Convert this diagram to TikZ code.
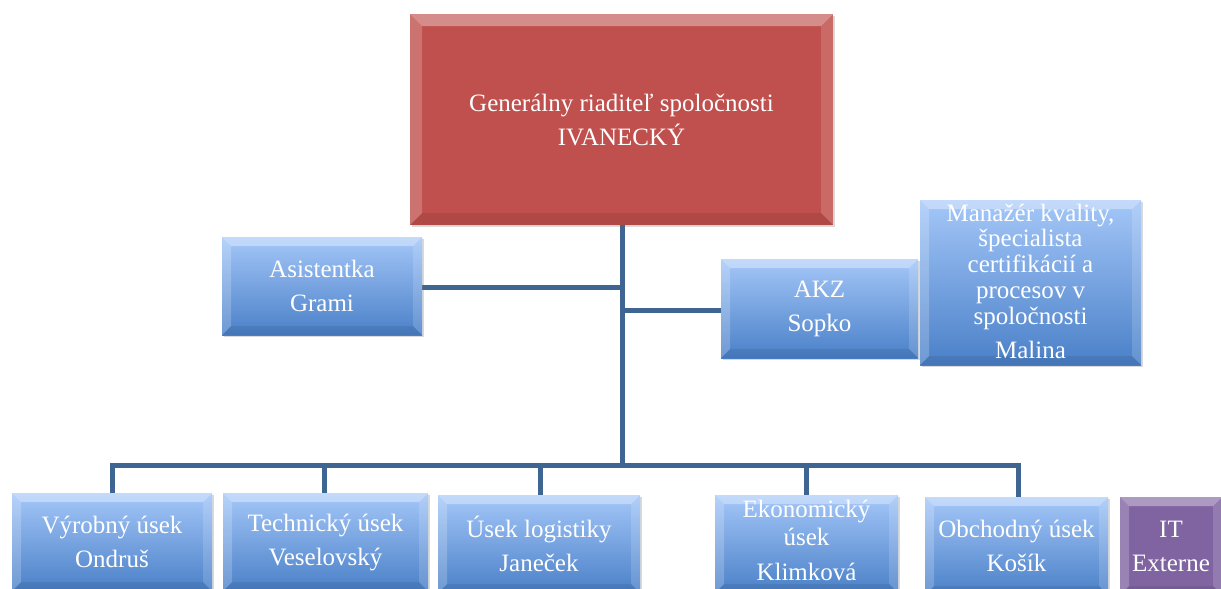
\documentclass[tikz,border=0pt]{standalone}
\usepackage{fontspec}
\setmainfont{Liberation Serif}
\usetikzlibrary{shadows}
\definecolor{conn}{HTML}{3F6592}
\definecolor{btop}{HTML}{A4C7F8}
\definecolor{bbot}{HTML}{4A80C8}
\definecolor{redbox}{HTML}{C0504D}
\definecolor{purp}{HTML}{8064A2}
\tikzset{
  bevel/.style={path picture={
    \fill[white,opacity=.35] (path picture bounding box.north west) -- (path picture bounding box.north east)
      -- ([xshift=-#1,yshift=-#1]path picture bounding box.north east) -- ([xshift=#1,yshift=-#1]path picture bounding box.north west) -- cycle;
    \fill[white,opacity=.2] (path picture bounding box.north west) -- ([xshift=#1,yshift=-#1]path picture bounding box.north west)
      -- ([xshift=#1,yshift=#1]path picture bounding box.south west) -- (path picture bounding box.south west) -- cycle;
    \fill[white,opacity=.15] (path picture bounding box.north east) -- ([xshift=-#1,yshift=-#1]path picture bounding box.north east)
      -- ([xshift=-#1,yshift=#1]path picture bounding box.south east) -- (path picture bounding box.south east) -- cycle;
    \fill[black,opacity=.08] (path picture bounding box.south west) -- ([xshift=#1,yshift=#1]path picture bounding box.south west)
      -- ([xshift=-#1,yshift=#1]path picture bounding box.south east) -- (path picture bounding box.south east) -- cycle;
  }},
  box/.style={inner sep=0pt, text=white, align=center, font=\fontsize{25}{34}\selectfont,
    drop shadow={shadow xshift=2pt,shadow yshift=-2pt,opacity=.25,fill=black!60}},
  bluebox/.style={box, top color=btop, bottom color=bbot, bevel=9pt},
  redstyle/.style={box, fill=redbox, bevel=12pt},
  purplebox/.style={box, fill=purp, bevel=9pt},
  boxtext/.style={inner sep=0pt, text=white, align=center},
  link/.style={draw=conn, line width=5pt},
}
\begin{document}
\begin{tikzpicture}[x=1pt,y=-1pt]
\useasboundingbox (0,0) rectangle (1221,589);
\clip (0,0) rectangle (1221,589);
% coordinates for connectors
\coordinate (bus) at (622,465);
\coordinate (top) at (622,224);
% connectors (behind boxes)
\draw[link] (top) -- (bus);
\draw[link] (bus) -| (112,500) coordinate (vyrtop);
\draw[link] (bus) -| (324,500) coordinate (techtop);
\draw[link] (bus) -| (540,500) coordinate (logtop);
\draw[link] (bus) -| (806,500) coordinate (ekotop);
\draw[link] (bus) -| (1018,500) coordinate (obchtop);
\coordinate (asj) at (622,287);
\coordinate (akj) at (622,310);
\draw[link] (asj) -- (410,287) coordinate (asend);
\draw[link] (akj) -- (730,310) coordinate (akend);

% boxes
\node[redstyle, minimum width=423pt, minimum height=211pt] (gen) at (621.5,119.5)
  {Generálny riaditeľ spoločnosti\\IVANECKÝ};
\node[bluebox, minimum width=200pt, minimum height=98pt] (asis) at (322,286) {Asistentka\\Grami};
\node[bluebox, minimum width=197pt, minimum height=99pt] (akz) at (819.5,308.5) {AKZ\\Sopko};
\node[bluebox, minimum width=221pt, minimum height=165pt] (man) at (1030.5,282.5) {};
\begin{scope}
  \clip (man.north west) rectangle (man.south east);
  \node[boxtext, font=\fontsize{25}{25.8}\selectfont] (mantext) at (1030.5,281)
    {Manažér kvality,\\ špecialista\\ certifikácií a\\ procesov v\\ spoločnosti\\[8pt] Malina};
\end{scope}
\node[bluebox, minimum width=200pt, minimum height=98pt] (vyr) at (112,542) {Výrobný úsek\\Ondruš};
\node[bluebox, minimum width=205pt, minimum height=98pt] (tech) at (325.5,542) {Technický úsek\\Veselovský};
\node[bluebox, minimum width=202pt, minimum height=98pt] (log) at (539,544) {Úsek logistiky\\Janeček};
\node[bluebox, minimum width=183pt, minimum height=98pt] (eko) at (806.5,544) {};
\begin{scope}
  \clip (eko.north west) rectangle (eko.south east);
  \node[boxtext, font=\fontsize{25}{28}\selectfont] (ekotext) at (806.5,540)
    {Ekonomický\\ úsek\\[7pt] Klimková};
\end{scope}
\node[bluebox, minimum width=183pt, minimum height=98pt] (obch) at (1016.5,546) {Obchodný úsek\\Košík};
\node[purplebox, minimum width=102pt, minimum height=98pt] (it) at (1171,546) {IT\\Externe};
\end{tikzpicture}
\end{document}
